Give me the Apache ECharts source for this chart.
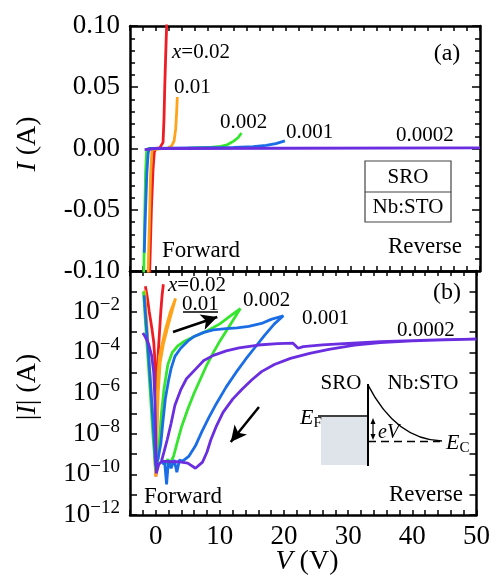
<!DOCTYPE html>
<html>
<head>
<meta charset="utf-8">
<script src="https://cdn.jsdelivr.net/npm/echarts@6/dist/echarts.min.js"></script>
<style>
html,body{margin:0;padding:0;background:#fff}
#chart{width:493px;height:583px}
</style>
</head>
<body>
<div id="chart"></div>
<script>
// ---- Panel (a): linear current, points are [V (V), I (A)] ----
const curA_x002   = [[-1.1,-0.12],[-0.96,-0.1],[-0.7,-0.05],[-0.45,-0.0175],[-0.25,-0.003],[0,0],[0.6,0.0005],[0.9,0.002],[1.1,0.005],[1.25,0.025],[1.36,0.05],[1.5,0.075],[1.65,0.1],[1.75,0.12]];
const curA_x001   = [[-1.3,-0.11],[-1.2,-0.1],[-1.0,-0.06],[-0.85,-0.025],[-0.7,-0.009],[-0.6,-0.001],[-0.4,0],[1.8,0.0003],[2.4,0.002],[2.8,0.006],[3.05,0.016],[3.2,0.03],[3.3,0.042]];
const curA_x0002  = [[-1.9,-0.11],[-1.75,-0.06],[-1.6,-0.02],[-1.45,-0.003],[-1.2,0],[5,0.0003],[8,0.0008],[10,0.0018],[11,0.003],[12,0.006],[12.7,0.009],[13.2,0.0127]];
const curA_x0001  = [[-1.8,-0.085],[-1.6,-0.05],[-1.4,-0.02],[-1.2,-0.004],[-1.0,0],[12,0.0008],[15,0.0015],[17,0.0025],[18.5,0.004],[19.9,0.0062]];
const curA_x00002 = [[-1.75,-0.0009],[0,0],[20,0.0002],[50,0.00045]];

// ---- Panel (b): |I| on a log scale, points are [V (V), log10 |I|] ----
const logB_x002   = [[-1.6,-0.75],[-1.3,-1.3],[-1.0,-2.0],[-0.6,-2.8],[-0.3,-3.5],[-0.1,-4.5],[0,-6],[0,-8],[0.05,-10.1],[0.15,-8],[0.25,-5.5],[0.4,-4.0],[0.6,-3.0],[0.8,-2.0],[1.0,-1.2],[1.2,-0.65]];
const logB_x001   = [[-1.7,-0.95],[-1.5,-2],[-1.2,-3.5],[-0.9,-5],[-0.6,-6.5],[-0.3,-8],[-0.1,-9.5],[0,-10.1],[0.1,-8.5],[0.2,-7],[0.3,-6],[0.4,-5],[0.6,-4.2],[1.0,-3.6],[1.6,-2.8],[2.3,-2.0],[3.1,-1.35],[2.0,-2.6],[1.2,-3.6],[0.7,-4.5],[0.4,-6],[0.2,-8],[0.05,-10]];
const logB_x0002  = [[-1.9,-1.0],[-1.6,-2.5],[-1.2,-4.3],[-0.8,-6.2],[-0.4,-8.2],[0,-9.8],[0.3,-9.4],[0.6,-8.3],[0.9,-7.0],[1.3,-5.8],[1.9,-4.6],[2.6,-4.0],[3.4,-3.7],[4.5,-3.45],[6,-3.22],[8,-2.95],[10,-2.6],[11.7,-2.2],[13.2,-1.85],[12.3,-2.3],[11.2,-2.85],[10,-3.45],[9,-4.0],[8,-4.6],[7,-5.3],[6,-6.0],[5,-6.8],[4,-7.7],[3.3,-8.5],[2.8,-9.1],[2.5,-9.3],[2.2,-9.6],[1.9,-9.25],[1.5,-9.5],[1.0,-9.3]];
const logB_x0001  = [[-1.8,-1.2],[-1.5,-2.5],[-1.1,-4.2],[-0.7,-6],[-0.3,-8],[0,-9.6],[0.4,-9.2],[0.8,-8.5],[1.1,-7.5],[1.5,-6.3],[2.0,-5.4],[2.4,-4.8],[3.0,-4.2],[3.9,-3.8],[5,-3.45],[6,-3.22],[7.5,-3.02],[9,-2.9],[11,-2.83],[12.7,-2.8],[14.5,-2.72],[16.5,-2.58],[18,-2.38],[19.9,-2.2],[18.5,-2.6],[17,-3.15],[15.5,-3.75],[14,-4.35],[12.5,-5.0],[11,-5.7],[9.5,-6.5],[8.3,-7.2],[7.2,-7.9],[6.2,-8.6],[5.2,-9.1],[4.2,-9.35],[3.7,-9.3],[3.3,-9.9],[2.9,-9.3],[2.4,-9.7],[2.0,-9.3],[1.7,-10.5],[1.4,-9.4],[1.0,-9.5]];
const logB_x00002 = [[-2.0,-3.05],[-1.6,-3.25],[-1.1,-3.6],[-0.6,-4.2],[-0.3,-5.0],[-0.1,-6.5],[0.0,-8.0],[0.1,-9.95],[0.5,-9.5],[1.0,-9.35],[2,-9.38],[3.5,-9.38],[5,-9.45],[6.2,-9.7],[7.3,-9.4],[8,-8.9],[8.6,-8.3],[9.5,-7.6],[10.5,-6.95],[12,-6.3],[13.5,-5.8],[15,-5.35],[16.5,-4.95],[18.5,-4.6],[21,-4.3],[24,-4.05],[27,-3.85],[31,-3.65],[35,-3.52],[40,-3.44],[45,-3.39],[50,-3.35],[45,-3.38],[40,-3.42],[35,-3.48],[30,-3.56],[26,-3.63],[23,-3.72],[22.2,-3.8],[21.4,-3.55],[19,-3.57],[16,-3.64],[13,-3.78],[11,-3.93],[9,-4.15],[7.5,-4.4],[6,-4.9],[4.8,-5.3],[3.9,-5.85],[3.0,-6.6],[2.4,-7.5],[1.8,-8.3],[1.3,-8.9],[0.9,-9.35]];

// ---- labels and axis ticks ----
const dopingLabels = ['x=0.02', '0.01', '0.002', '0.001', '0.0002'];
const xTickLabels = [0, 10, 20, 30, 40, 50];
const logTickExps = [-12, -10, -8, -6, -4, -2];
const colors = ['#ee1c25', '#ffa31a', '#36e62e', '#1b6de6', '#6a2ee0'];

const FONT = 'Liberation Serif';
const TICK_FONT = 27;
const toAbs = pts => pts.map(([v, e]) => [v, Math.pow(10, e)]);

function xAxisCfg(grid, pos, labels) {
  return {
    type: 'value', gridIndex: grid, position: pos, min: -4, max: 50, interval: 2,
    axisLine: { show: true, onZero: false, lineStyle: { color: '#000', width: 2.5 } },
    axisTick: { show: true, inside: true, length: 5, lineStyle: { color: '#000', width: 1.5 } },
    axisLabel: {
      show: labels, margin: 8, color: '#000', fontFamily: FONT, fontSize: TICK_FONT,
      formatter: v => xTickLabels.includes(v) ? String(v) : ''
    },
    splitLine: { show: false }
  };
}
function linYCfg(pos, labels) {
  return {
    type: 'value', gridIndex: 0, position: pos, min: -0.1, max: 0.1, interval: 0.05,
    axisLine: { show: true, onZero: false, lineStyle: { color: '#000', width: 2.5 } },
    axisTick: { show: true, inside: true, length: 8, lineStyle: { color: '#000', width: 1.5 } },
    minorTick: { show: true, splitNumber: 5, length: 5, lineStyle: { color: '#000', width: 1.5 } },
    axisLabel: {
      show: labels, margin: 10, color: '#000', fontFamily: FONT, fontSize: TICK_FONT,
      formatter: v => { const k = Math.round(v * 100); return (k < 0 ? '-' : '') + Math.abs(k / 100).toFixed(2); }
    },
    splitLine: { show: false }, minorSplitLine: { show: false }
  };
}
function logYCfg(pos, labels) {
  return {
    type: 'log', logBase: 10, gridIndex: 1, position: pos, min: 1e-12, max: 1, interval: 1,
    axisLine: { show: true, onZero: false, lineStyle: { color: '#000', width: 2.5 } },
    axisTick: { show: true, inside: true, length: 7, lineStyle: { color: '#000', width: 1.5 } },
    axisLabel: {
      show: labels, margin: 10, color: '#000', fontFamily: FONT,
      formatter: v => { const e = Math.round(Math.log10(v)); return logTickExps.includes(e) ? '{b|10}{s|\u2212' + (-e) + '}' : ''; },
      rich: {
        b: { fontFamily: FONT, fontSize: TICK_FONT, color: '#000' },
        s: { fontFamily: FONT, fontSize: 19, color: '#000', padding: [0, 0, 14, 0] }
      }
    },
    splitLine: { show: false }
  };
}

const seriesA = [curA_x002, curA_x001, curA_x0002, curA_x0001, curA_x00002];
const seriesB = [logB_x002, logB_x001, logB_x0002, logB_x0001, logB_x00002];
const drawOrder = [2, 3, 4, 0, 1];

const series = [];
drawOrder.forEach(i => {
  series.push({
    type: 'line', name: dopingLabels[i] + ' (a)', xAxisIndex: 0, yAxisIndex: 0,
    data: seriesA[i], showSymbol: false, symbol: 'none', clip: true,
    lineStyle: { color: colors[i], width: 2.8 }, silent: true, z: 2 + i
  });
});
drawOrder.forEach(i => {
  series.push({
    type: 'line', name: dopingLabels[i] + ' (b)', xAxisIndex: 2, yAxisIndex: 2,
    data: toAbs(seriesB[i]), showSymbol: false, symbol: 'none', clip: true,
    lineStyle: { color: colors[i], width: 2.8 }, silent: true, z: 2 + i
  });
});
// sweep-direction arrows in panel (b)
series.push({
  type: 'line', xAxisIndex: 2, yAxisIndex: 2, data: [], silent: true,
  markLine: {
    silent: true, symbol: ['none', 'arrow'], symbolSize: [12, 16],
    label: { show: false },
    lineStyle: { color: '#000', width: 2.5, type: 'solid' },
    data: [
      [{ coord: [2.7, Math.pow(10, -3.0)] }, { coord: [9.6, Math.pow(10, -2.26)] }],
      [{ coord: [16.1, Math.pow(10, -6.69)] }, { coord: [11.7, Math.pow(10, -8.41)] }]
    ]
  }
});

function txt(x, y, text, size, extra) {
  return { type: 'text', x: x, y: y, z: 100, silent: true,
    style: Object.assign({ text: text, fill: '#000', fontFamily: FONT, fontSize: size, align: 'left', verticalAlign: 'middle' }, extra || {}) };
}
const italicRich = size => ({ i: { fontFamily: FONT, fontStyle: 'italic', fontSize: size, fill: '#000' }, n: { fontFamily: FONT, fontSize: size, fill: '#000' } });

const yTitleA = txt(0, 0, '{i|I}{n| (A)}', 28, { align: 'center', rich: italicRich(28) });
Object.assign(yTitleA, { x: 28, y: 144, rotation: Math.PI / 2 });
const yTitleB = txt(0, 0, '|{i|I}| (A)', 28, { align: 'center', rich: italicRich(28) });
Object.assign(yTitleB, { x: 28, y: 387, rotation: Math.PI / 2 });

const graphics = [
  // axis titles
  yTitleA,
  yTitleB,
  txt(307, 562, '{i|V}{n| (V)}', 28, { align: 'center', rich: italicRich(28) }),
  // panel (a) labels
  txt(172, 52, '{i|x}{n|=0.02}', 21, { rich: italicRich(21) }),
  txt(174, 87, dopingLabels[1], 21),
  txt(220, 122, dopingLabels[2], 21),
  txt(286, 132, dopingLabels[3], 21),
  txt(396, 135, dopingLabels[4], 21),
  txt(447, 54, '(a)', 24, { align: 'center' }),
  txt(162, 251, 'Forward', 23),
  txt(462, 247, 'Reverse', 23, { align: 'right' }),
  // layer stack box
  { type: 'rect', z: 90, silent: true, shape: { x: 365, y: 161, width: 86, height: 61 }, style: { fill: '#fff', stroke: '#444', lineWidth: 1.2 } },
  { type: 'line', z: 91, silent: true, shape: { x1: 365, y1: 192, x2: 451, y2: 192 }, style: { stroke: '#444', lineWidth: 1.2 } },
  txt(408, 177, 'SRO', 21, { align: 'center' }),
  txt(408, 207, 'Nb:STO', 21, { align: 'center' }),
  // panel (b) labels
  txt(168, 285, '{i|x}{n|=0.02}', 21, { rich: italicRich(21) }),
  txt(182, 304, dopingLabels[1], 21),
  { type: 'line', z: 100, silent: true, shape: { x1: 183, y1: 312, x2: 218, y2: 312 }, style: { stroke: '#000', lineWidth: 1.5 } },
  txt(243, 300, dopingLabels[2], 21),
  txt(302, 318, dopingLabels[3], 21),
  txt(397, 330, dopingLabels[4], 21),
  txt(447, 293, '(b)', 24, { align: 'center' }),
  txt(144, 497, 'Forward', 23),
  txt(463, 495, 'Reverse', 23, { align: 'right' }),
  // band diagram
  { type: 'rect', z: 90, silent: true, shape: { x: 321, y: 417, width: 46, height: 48 }, style: { fill: '#dfe4ea' } },
  { type: 'line', z: 91, silent: true, shape: { x1: 318, y1: 416, x2: 368, y2: 416 }, style: { stroke: '#000', lineWidth: 1.5 } },
  { type: 'line', z: 91, silent: true, shape: { x1: 368, y1: 384, x2: 368, y2: 466 }, style: { stroke: '#000', lineWidth: 2 } },
  { type: 'bezierCurve', z: 91, silent: true, shape: { x1: 368, y1: 385, cpx1: 385, cpy1: 418, cpx2: 408, cpy2: 440, x2: 442, y2: 441 }, style: { stroke: '#000', lineWidth: 1.5, fill: null } },
  { type: 'line', z: 91, silent: true, shape: { x1: 368, y1: 441.5, x2: 440, y2: 441.5 }, style: { stroke: '#000', lineWidth: 1.5, lineDash: [8, 5] } },
  { type: 'line', z: 91, silent: true, shape: { x1: 373, y1: 421, x2: 373, y2: 437 }, style: { stroke: '#000', lineWidth: 1.2 } },
  { type: 'polygon', z: 91, silent: true, shape: { points: [[373, 418], [370.5, 424], [375.5, 424]] }, style: { fill: '#000' } },
  { type: 'polygon', z: 91, silent: true, shape: { points: [[373, 440], [370.5, 434], [375.5, 434]] }, style: { fill: '#000' } },
  txt(341, 383, 'SRO', 21, { align: 'center' }),
  txt(423, 383, 'Nb:STO', 21, { align: 'center' }),
  txt(300, 418, '{i|E}{sub|F}', 22, { rich: { i: { fontFamily: FONT, fontStyle: 'italic', fontSize: 22, fill: '#000' }, sub: { fontFamily: FONT, fontSize: 15, fill: '#000', padding: [10, 0, 0, 0] } } }),
  txt(378, 433, '{i|eV}', 20, { rich: italicRich(20) }),
  txt(446, 443, '{i|E}{sub|C}', 22, { rich: { i: { fontFamily: FONT, fontStyle: 'italic', fontSize: 22, fill: '#000' }, sub: { fontFamily: FONT, fontSize: 15, fill: '#000', padding: [10, 0, 0, 0] } } })
];

const chart = echarts.init(document.getElementById('chart'), null, { renderer: 'canvas' });
chart.setOption({
  animation: false,
  backgroundColor: '#fff',
  grid: [
    { left: 130, top: 26, width: 350, height: 245, containLabel: false },
    { left: 130, top: 271, width: 350, height: 244, containLabel: false }
  ],
  xAxis: [xAxisCfg(0, 'bottom', false), xAxisCfg(0, 'top', false), xAxisCfg(1, 'bottom', true), xAxisCfg(1, 'top', false)],
  yAxis: [linYCfg('left', true), linYCfg('right', false), logYCfg('left', true), logYCfg('right', false)],
  series: series,
  graphic: graphics
});
</script>
</body>
</html>
